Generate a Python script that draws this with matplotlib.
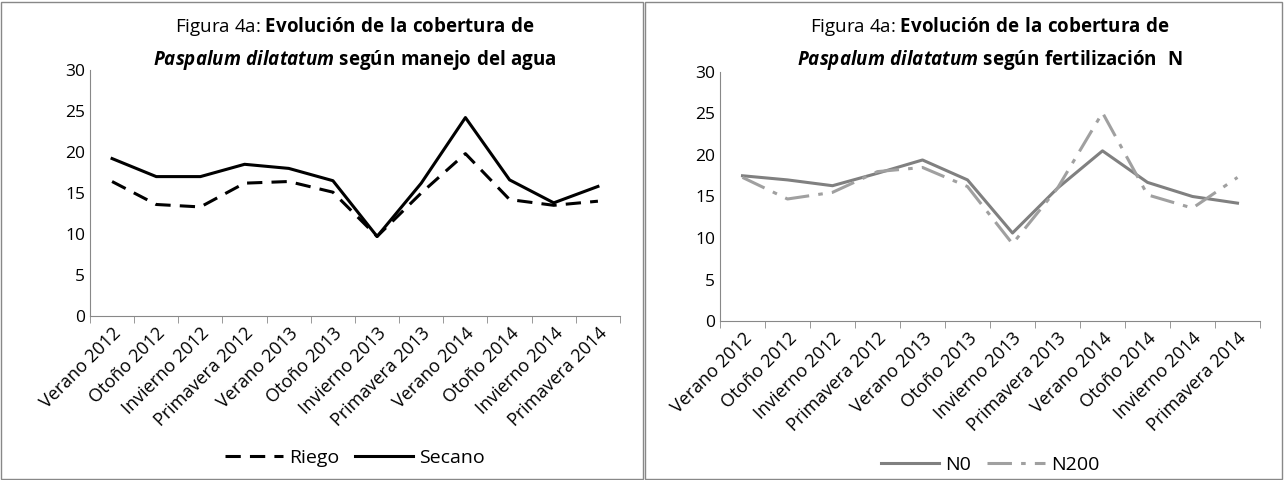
import matplotlib
matplotlib.use("Agg")
import matplotlib.pyplot as plt
from matplotlib.patches import Rectangle

plt.rcParams['font.family'] = ['Open Sans', 'DejaVu Sans']
plt.rcParams['mathtext.fontset'] = 'custom'
plt.rcParams['mathtext.rm'] = 'Open Sans'
plt.rcParams['mathtext.bf'] = 'Open Sans:bold'
plt.rcParams['mathtext.it'] = 'Open Sans:italic:bold'

categories = ["Verano 2012", "Otoño 2012", "Invierno 2012", "Primavera 2012", "Verano 2013",
              "Otoño 2013", "Invierno 2013", "Primavera 2013", "Verano 2014", "Otoño 2014",
              "Invierno 2014", "Primavera 2014"]
riego = [16.4, 13.6, 13.3, 16.2, 16.4, 15.1, 9.7, 15.0, 19.8, 14.2, 13.5, 14.0]
secano = [19.2, 17.0, 17.0, 18.5, 18.0, 16.5, 9.7, 16.2, 24.2, 16.6, 13.8, 15.8]
n0 = [17.5, 17.0, 16.3, 17.8, 19.4, 17.0, 10.6, 16.0, 20.5, 16.7, 15.0, 14.2]
n200 = [17.3, 14.7, 15.5, 18.0, 18.5, 16.2, 9.3, 16.0, 25.1, 15.2, 13.6, 17.3]

W, H = 1284, 480
fig = plt.figure(figsize=(W/100, H/100), dpi=100)
fig.patches.append(Rectangle((1/W, 1/H), 642/W, 477/H, transform=fig.transFigure,
                             fill=False, ec='#888888', lw=1))
fig.patches.append(Rectangle((645/W, 1/H), 637/W, 477/H, transform=fig.transFigure,
                             fill=False, ec='#888888', lw=1))

def panel(x0, x1, y0, y1, s1, s2, labels, styles, title2):
    ax = fig.add_axes([x0/W, 1-y1/H, (x1-x0)/W, (y1-y0)/H])
    x = range(len(categories))
    for s, lab, st in zip((s1, s2), labels, styles):
        ax.plot(x, s, label=lab, **st)
    ax.set_ylim(0, 30)
    ax.set_yticks(range(0, 31, 5))
    ax.set_xlim(-0.5, len(categories)-0.5)
    ax.set_xticks(list(x))
    ax.set_xticklabels(categories, rotation=45, ha='right', rotation_mode='anchor', fontsize=13)
    ax.tick_params(axis='y', labelsize=12.5, length=0)
    for sp in ['top', 'right']:
        ax.spines[sp].set_visible(False)
    ax.spines['left'].set_color('#888888')
    ax.spines['bottom'].set_color('#888888')
    ax.set_xticks([i+0.5 for i in range(-1, len(categories))], minor=True)
    ax.tick_params(axis='x', which='major', length=0, pad=6)
    ax.tick_params(axis='x', which='minor', length=5, color='#888888')
    cx = (x0 + x1) / 2 / W
    fig.text(cx, 1-27/H, "Figura 4a: $\\mathbf{Evolución\\ de\\ la\\ cobertura\\ de}$",
             ha='center', va='center', fontsize=13.5)
    fig.text(cx, 1-60/H, title2, ha='center', va='center', fontsize=13.5)
    ax.legend(loc='upper center', bbox_to_anchor=(0.5, -0.47), ncol=2, frameon=False,
              fontsize=14, handlelength=3, columnspacing=0.8, handletextpad=0.3)
    return ax

panel(90, 620, 70, 316, riego, secano, ["Riego", "Secano"],
      [dict(color='black', lw=2.2, ls=(0, (5, 3))), dict(color='black', lw=2.2)],
      "$\\mathit{Paspalum\\ dilatatum}$ $\\mathbf{según\\ manejo\\ del\\ agua}$")
panel(720, 1260, 72, 321, n0, n200, ["N0", "N200"],
      [dict(color='#808080', lw=2.2), dict(color='#a0a0a0', lw=2.2, ls=(0, (8, 3, 1.5, 3)))],
      "$\\mathit{Paspalum\\ dilatatum}$ $\\mathbf{según\\ fertilización\\ \\ N}$")

fig.savefig("out.png", dpi=100)
